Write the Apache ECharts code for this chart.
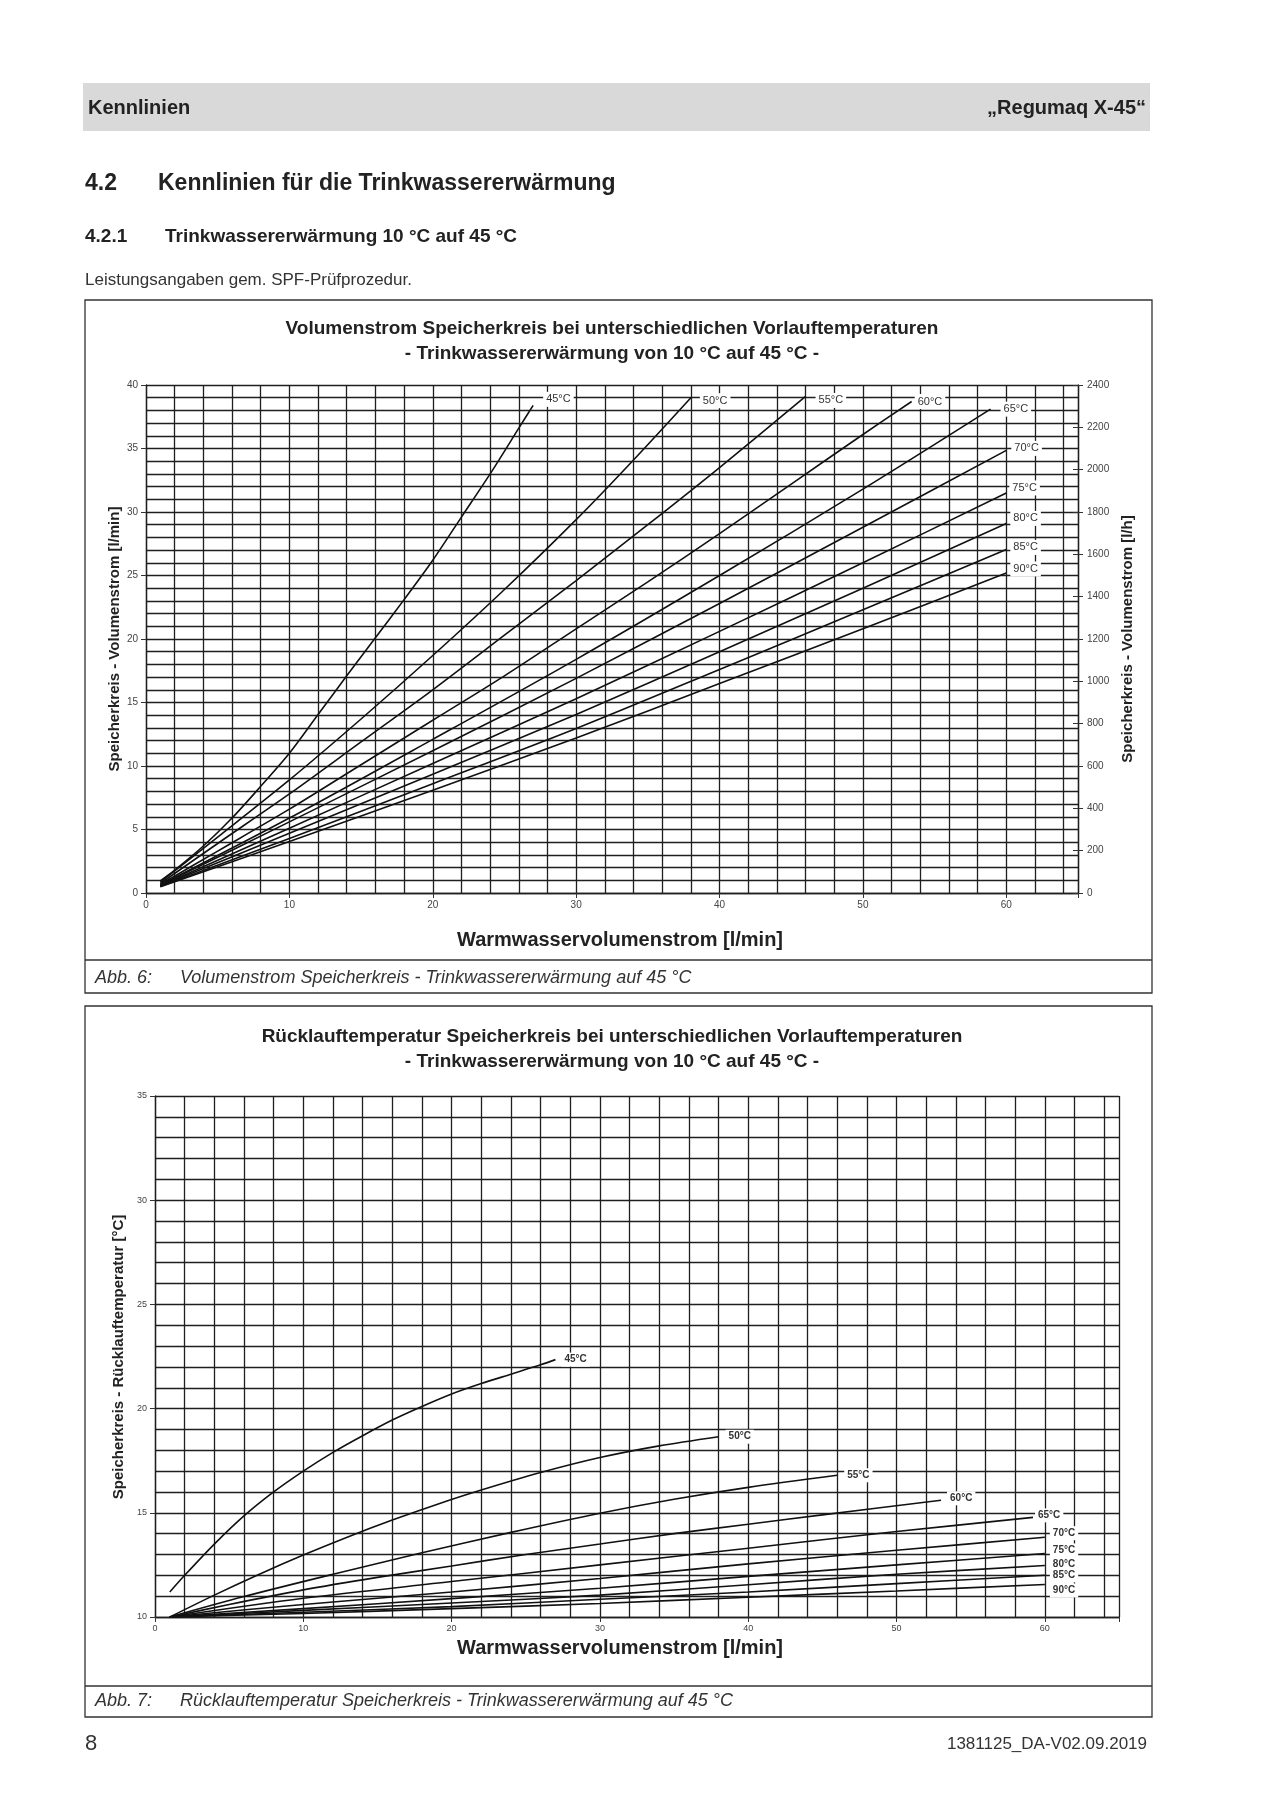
<!DOCTYPE html>
<html><head><meta charset="utf-8">
<script src="https://cdn.jsdelivr.net/npm/echarts@6/dist/echarts.min.js"></script>
<style>html,body{margin:0;padding:0;background:#fff}#c{width:1280px;height:1809px}</style>
</head><body><div id="c"></div>
<script>
// ---------- data ----------
const tempNames = ['45°C','50°C','55°C','60°C','65°C','70°C','75°C','80°C','85°C','90°C'];
const xTicks = [0,10,20,30,40,50,60];
// Chart 1: Volumenstrom Speicherkreis [l/min] vs Warmwasservolumenstrom [l/min]
const flow45 = [[1,0.95],[2,1.8],[4,3.7],[6,5.9],[8,8.4],[10,11.0],[12,14.05],[14,17.1],[16,20.1],[18,23.1],[20,26.2],[22,29.6],[24,33.0],[26,36.6],[27,38.4]];
const flow50 = [[1,0.85],[5,4.4],[10,8.9],[15,13.7],[20,18.7],[25,23.9],[30,29.4],[34,34.1],[38,39.0]];
const flow55 = [[1,0.75],[5,3.9],[10,7.8],[15,11.9],[20,16.0],[25,20.3],[30,24.6],[35,29.0],[40,33.5],[46,39.1]];
const flow60 = [[1,0.67],[5,3.3],[10,6.6],[15,10.1],[20,13.6],[25,17.1],[30,20.8],[35,24.5],[40,28.3],[45,32.2],[50,36.1],[53.4,38.7]];
const flow65 = [[1,0.63],[10,5.9],[20,12.1],[30,18.4],[40,25.0],[50,31.8],[58.9,38.1]];
const flow70 = [[1,0.6],[10,5.6],[20,11.2],[30,16.9],[40,22.8],[50,28.8],[60,34.85]];
const flow75 = [[1,0.57],[10,5.1],[20,10.2],[30,15.3],[40,20.6],[50,26.0],[60,31.5]];
const flow80 = [[1,0.55],[10,4.7],[20,9.35],[30,14.05],[40,19.0],[50,24.0],[60,29.1]];
const flow85 = [[1,0.52],[10,4.3],[20,8.6],[30,12.95],[40,17.6],[50,22.3],[60,27.05]];
const flow90 = [[1,0.5],[10,4.05],[20,8.1],[30,12.2],[40,16.5],[50,20.8],[60,25.2]];
// Chart 2: Rücklauftemperatur Speicherkreis [°C]
const ret45 = [[1,11.2],[2,12.0],[4,13.5],[6,14.85],[8,16.0],[10,17.0],[12,17.9],[14,18.7],[16,19.45],[18,20.1],[20,20.7],[22,21.2],[24,21.65],[26,22.1],[27,22.35]];
const ret50 = [[1,10],[4,11.05],[7,12.04],[10,12.97],[13,13.84],[16,14.65],[19,15.4],[22,16.09],[26,16.93],[30,17.65],[34,18.21],[38,18.65]];
const ret55 = [[1,10],[6,10.98],[12,12.05],[18,13.08],[24,14.06],[30,14.98],[35,15.65],[40,16.22],[46,16.8]];
const ret60 = [[1,10],[5,10.6],[10,11.3],[15,11.9],[20,12.45],[25,13.0],[30,13.5],[35,14.0],[40,14.45],[45,14.9],[53,15.6]];
const ret65 = [[1,10],[10,10.9],[20,11.7],[30,12.5],[40,13.3],[50,14.1],[59.2,14.78]];
const ret70 = [[1,10],[10,10.6],[20,11.2],[30,11.85],[40,12.55],[50,13.2],[60,13.83]];
const ret75 = [[1,10],[10,10.4],[20,10.88],[30,11.38],[40,11.95],[50,12.5],[60,13.05]];
const ret80 = [[1,10],[10,10.32],[20,10.67],[30,11.05],[40,11.55],[50,12.05],[60,12.47]];
const ret85 = [[1,10],[10,10.23],[20,10.5],[30,10.85],[40,11.2],[50,11.6],[60,12.0]];
const ret90 = [[1,10],[10,10.17],[20,10.4],[30,10.65],[40,10.95],[50,11.25],[60,11.56]];

const flowSeries = [flow45,flow50,flow55,flow60,flow65,flow70,flow75,flow80,flow85,flow90];
const retSeries = [ret45,ret50,ret55,ret60,ret65,ret70,ret75,ret80,ret85,ret90];
// label placement (distance, dy) per curve
const flowLabelPos = [[10,-6],[9,3],[10,4],[3,0],[10,0],[5,-2],[3,-5],[4,-5],[4,-2],[4,-4]];
const retLabelPos = [[6,0],[7,0],[7,0],[6,-2],[2,-2],[5,-4],[5,-3],[5,-1.5],[5,0],[5,6]];

// ---------- chart ----------
const FONT = '"Liberation Sans", Arial, Helvetica, sans-serif';
const chart = echarts.init(document.getElementById('c'), null, {renderer:'canvas'});
const GRIDC = '#1f1f1f';

function gridX(gi){return {type:'value',gridIndex:gi,position:'bottom',min:0,max:65,interval:2,
  axisLine:{show:true,lineStyle:{color:GRIDC,width:1.3}},axisTick:{show:false},axisLabel:{show:false},
  splitLine:{show:true,lineStyle:{color:GRIDC,width:1.3}}};}
function labX(gi,fs){return {type:'value',gridIndex:gi,position:'bottom',min:0,max:65,interval:10,
  axisLine:{show:false},axisTick:{show:true,length:5,lineStyle:{color:'#333'}},
  axisLabel:{show:true,fontSize:fs,color:'#444',fontFamily:FONT,margin:7,
    formatter:v=>xTicks.indexOf(v)>=0?String(v):''},splitLine:{show:false}};}

const series = [];
flowSeries.forEach((d,i)=>{
  series.push({type:'line',name:tempNames[i],data:d,xAxisIndex:0,yAxisIndex:0,
    showSymbol:false,symbol:'none',smooth:0.3,
    lineStyle:{color:'#111',width:1.6},z:5,silent:true,
    endLabel:{show:true,formatter:tempNames[i],distance:flowLabelPos[i][0],offset:[0,flowLabelPos[i][1]],
      fontSize:11,fontFamily:FONT,color:'#333',backgroundColor:'#fff',padding:[2,3]}});
});
retSeries.forEach((d,i)=>{
  series.push({type:'line',name:tempNames[i],data:d,xAxisIndex:2,yAxisIndex:4,
    showSymbol:false,symbol:'none',smooth:0.3,
    lineStyle:{color:'#111',width:1.6},z:5,silent:true,
    endLabel:{show:true,formatter:tempNames[i],distance:retLabelPos[i][0],offset:[0,retLabelPos[i][1]],
      fontSize:10,fontWeight:'bold',fontFamily:FONT,color:'#333',backgroundColor:'#fff',padding:[2,3]}});
});

function txt(t,x,y,font,opt){opt=opt||{};return {type:'text',x:x,y:y,rotation:opt.rot||0,z:10,
  style:{text:t,x:0,y:0,font:font,fill:opt.fill||'#222',textAlign:opt.align||'left',textVerticalAlign:'middle'}};}

const graphics = [
  {type:'rect',shape:{x:83,y:83,width:1067,height:48},style:{fill:'#d9d9d9'},z:1},
  txt('Kennlinien',88,108,'bold 20px '+FONT),
  txt('„Regumaq X-45“',1146,108,'bold 20px '+FONT,{align:'right'}),
  txt('4.2',85,184,'bold 23px '+FONT),
  txt('Kennlinien für die Trinkwassererwärmung',158,184,'bold 23px '+FONT),
  txt('4.2.1',85,237,'bold 19px '+FONT),
  txt('Trinkwassererwärmung 10 °C auf 45 °C',165,237,'bold 19px '+FONT),
  txt('Leistungsangaben gem. SPF-Prüfprozedur.',85,280,'17px '+FONT,{fill:'#333'}),
  // box 1
  {type:'rect',shape:{x:85,y:300,width:1067,height:693},style:{fill:'none',stroke:'#333',lineWidth:1.3},z:2},
  {type:'line',shape:{x1:85,y1:960,x2:1152,y2:960},style:{stroke:'#333',lineWidth:1.3},z:2},
  txt('Abb. 6:',95,978,'italic 18px '+FONT,{fill:'#333'}),
  txt('Volumenstrom Speicherkreis - Trinkwassererwärmung auf 45 °C',180,978,'italic 18px '+FONT,{fill:'#333'}),
  txt('Volumenstrom Speicherkreis bei unterschiedlichen Vorlauftemperaturen',612,329,'bold 19px '+FONT,{align:'center'}),
  txt('- Trinkwassererwärmung von 10 °C auf 45 °C -',612,354,'bold 19px '+FONT,{align:'center'}),
  txt('Warmwasservolumenstrom [l/min]',620,940,'bold 20px '+FONT,{align:'center'}),
  txt('Speicherkreis - Volumenstrom [l/min]',115,639,'bold 15px '+FONT,{align:'center',rot:Math.PI/2}),
  txt('Speicherkreis - Volumenstrom [l/h]',1128,639,'bold 15px '+FONT,{align:'center',rot:Math.PI/2}),
  // box 2
  {type:'rect',shape:{x:85,y:1006,width:1067,height:711},style:{fill:'none',stroke:'#333',lineWidth:1.3},z:2},
  {type:'line',shape:{x1:85,y1:1686,x2:1152,y2:1686},style:{stroke:'#333',lineWidth:1.3},z:2},
  txt('Abb. 7:',95,1701,'italic 18px '+FONT,{fill:'#333'}),
  txt('Rücklauftemperatur Speicherkreis - Trinkwassererwärmung auf 45 °C',180,1701,'italic 18px '+FONT,{fill:'#333'}),
  txt('Rücklauftemperatur Speicherkreis bei unterschiedlichen Vorlauftemperaturen',612,1037,'bold 19px '+FONT,{align:'center'}),
  txt('- Trinkwassererwärmung von 10 °C auf 45 °C -',612,1062,'bold 19px '+FONT,{align:'center'}),
  txt('Warmwasservolumenstrom [l/min]',620,1648,'bold 20px '+FONT,{align:'center'}),
  txt('Speicherkreis - Rücklauftemperatur [°C]',119,1357,'bold 15px '+FONT,{align:'center',rot:Math.PI/2}),
  // footer
  txt('8',85,1744,'22px '+FONT,{fill:'#333'}),
  txt('1381125_DA-V02.09.2019',1147,1744,'17px '+FONT,{fill:'#333',align:'right'})
];

const option = {
  animation:false,
  backgroundColor:'#fff',
  grid:[{left:146,top:385,width:932,height:508},{left:155,top:1096,width:964,height:521}],
  xAxis:[gridX(0),labX(0,10),gridX(1),labX(1,9)],
  yAxis:[
    {type:'value',gridIndex:0,position:'left',min:0,max:40,interval:1,axisLine:{show:true,lineStyle:{color:GRIDC,width:1.3}},
      axisTick:{show:false},axisLabel:{show:false},splitLine:{show:true,lineStyle:{color:GRIDC,width:1.3}}},
    {type:'value',gridIndex:0,min:0,max:40,interval:5,position:'left',axisLine:{show:false},
      axisTick:{show:true,length:5,lineStyle:{color:'#333'}},
      axisLabel:{fontSize:10,color:'#444',fontFamily:FONT,margin:8,formatter:v=>String(v)},splitLine:{show:false}},
    {type:'value',gridIndex:0,min:0,max:2400,interval:200,position:'right',
      axisLine:{show:true,lineStyle:{color:GRIDC,width:1.3}},
      axisTick:{show:true,length:5,lineStyle:{color:'#333'}},
      axisLabel:{fontSize:10,color:'#444',fontFamily:FONT,margin:9,formatter:v=>String(v)},splitLine:{show:false}},
    {type:'value',gridIndex:0,min:0,max:2400,interval:200,position:'right',axisLine:{show:false},
      axisTick:{show:true,inside:true,length:5,lineStyle:{color:'#333'}},axisLabel:{show:false},splitLine:{show:false}},
    {type:'value',gridIndex:1,position:'left',min:10,max:35,interval:1,axisLine:{show:true,lineStyle:{color:GRIDC,width:1.3}},
      axisTick:{show:false},axisLabel:{show:false},splitLine:{show:true,lineStyle:{color:GRIDC,width:1.3}}},
    {type:'value',gridIndex:1,min:10,max:35,interval:5,position:'left',axisLine:{show:false},
      axisTick:{show:true,length:5,lineStyle:{color:'#333'}},
      axisLabel:{fontSize:9,color:'#444',fontFamily:FONT,margin:8,formatter:v=>String(v)},splitLine:{show:false}}
  ],
  graphic:graphics,
  series:series
};
chart.setOption(option);
</script></body></html>
